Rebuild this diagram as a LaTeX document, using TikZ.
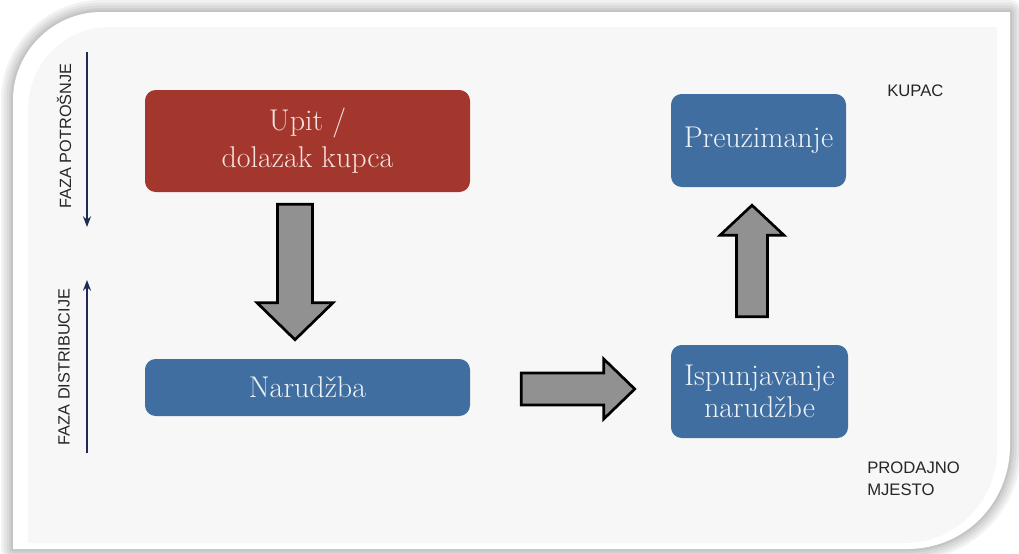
\documentclass[tikz,border=0pt]{standalone}
\usepackage{fontspec}
\newfontfamily\labelfont{Liberation Sans}
\usetikzlibrary{arrows.meta,calc,positioning}
\definecolor{boxred}{RGB}{163,54,45}
\definecolor{boxblue}{RGB}{64,110,160}
\definecolor{arrowgray}{RGB}{145,145,145}
\definecolor{phasenavy}{RGB}{30,44,82}
\definecolor{panelgray}{RGB}{247,247,247}
\definecolor{redtext}{RGB}{246,226,222}
\definecolor{bluetext}{RGB}{238,243,248}

\newcommand{\outerpanel}{(13,100) .. controls (13,52) and (53,12) .. (101,12) -- (1010,12) -- (1010,445) .. controls (1010,503) and (965,549) .. (907,549) -- (13,549) -- cycle}
\newcommand{\innerpanel}{(28,110) .. controls (28,64) and (64,27) .. (110,27) -- (997,27) -- (997,450) .. controls (997,501) and (956,543) .. (905,543) -- (28,543) -- cycle}

\begin{document}
\begin{tikzpicture}[
    x=0.75pt, y=-0.75pt,
    stage/.style={rectangle, rounded corners=8pt, inner sep=2pt, align=center, font=\fontsize{22.5}{24}\selectfont},
    phase/.style={line width=1.7pt, phasenavy, -{Stealth[length=8pt, width=6pt]}},
    side/.style={font=\labelfont\fontsize{12.2}{14}\selectfont, text=black!85, inner sep=0pt, rotate=90},
    place/.style={font=\labelfont\fontsize{12.5}{16.5}\selectfont, text=black!85, inner sep=0pt, align=left},
    blockarrow/.style n args={3}{draw=black, line width=2pt, fill=arrowgray, line join=miter,
        to path={let \p1=(\tikztostart), \p2=(\tikztotarget),
            \n1={atan2(\y2-\y1,\x2-\x1)}, \n2={veclen(\x2-\x1,\y2-\y1)-#3} in
            ($(\p1)+(\n1+90:#1)$) -- ($(\p1)+(\n1:\n2)+(\n1+90:#1)$)
            -- ($(\p1)+(\n1:\n2)+(\n1+90:#2)$) -- (\p2)
            -- ($(\p1)+(\n1:\n2)+(\n1-90:#2)$) -- ($(\p1)+(\n1:\n2)+(\n1-90:#1)$)
            -- ($(\p1)+(\n1-90:#1)$) -- cycle}}
]
\useasboundingbox (0,0) rectangle (1019,553);

% Panel with soft shadow
\foreach \lw in {18,14,10,6,3}
    \draw[line width=\lw pt, black, opacity=0.05, line join=round] \outerpanel;
\fill[white] \outerpanel;
\fill[panelgray] \innerpanel;

% Phase arrows
\coordinate (potTop) at (87,52);
\coordinate (potEnd) at (87,227);
\draw[phase] (potTop) -- (potEnd);
\node[side] (potrosnja) at (64,136) {FAZA POTROŠNJE};

\coordinate (disBottom) at (87,453);
\coordinate (disEnd) at (87,280);
\draw[phase] (disBottom) -- (disEnd);
\node[side] (distribucija) at (64,367) {FAZA DISTRIBUCIJE};

% Stages
\node[stage, fill=boxred, text=redtext, minimum width=243.75pt, minimum height=76.5pt,
      font=\fontsize{22.5}{27.75}\selectfont] (upit) at (307.5,141) {Upit /\\dolazak kupca};
\node[stage, fill=boxblue, text=bluetext, minimum width=243.75pt, minimum height=42.75pt] (narudzba) at (307.5,387.5) {Narudžba};
\node[stage, fill=boxblue, text=bluetext, minimum width=131.25pt, minimum height=69.75pt] (preuzimanje) at (758.5,140.5) {Preuzimanje};
\node[stage, fill=boxblue, text=bluetext, minimum width=132.75pt, minimum height=69.75pt] (ispunjavanje) at (759.5,391.5) {Ispunjavanje\\narudžbe};

% Places
\node[place, anchor=west] (kupac) at (887,91) {KUPAC};
\node[place, anchor=west] (mjesto) at (867,479) {PRODAJNO\\MJESTO};

% Block arrows
\coordinate (downStart) at ($(upit.south)+(-12.5,12)$);
\coordinate (downEnd) at ($(narudzba.north)+(-12.5,-19)$);
\draw[blockarrow={13.1pt}{28.5pt}{27.75}] (downStart) to (downEnd);

\coordinate (rightStart) at ($(narudzba.east)+(51,1.5)$);
\coordinate (rightEnd) at ($(ispunjavanje.west)+(-36,-2.5)$);
\draw[blockarrow={12pt}{22.5pt}{23.25}] (rightStart) to (rightEnd);

\coordinate (upStart) at ($(ispunjavanje.north)+(-7.5,-28)$);
\coordinate (upEnd) at ($(preuzimanje.south)+(-6.5,18)$);
\draw[blockarrow={11.6pt}{24pt}{22.5}] (upStart) to (upEnd);

\end{tikzpicture}
\end{document}
